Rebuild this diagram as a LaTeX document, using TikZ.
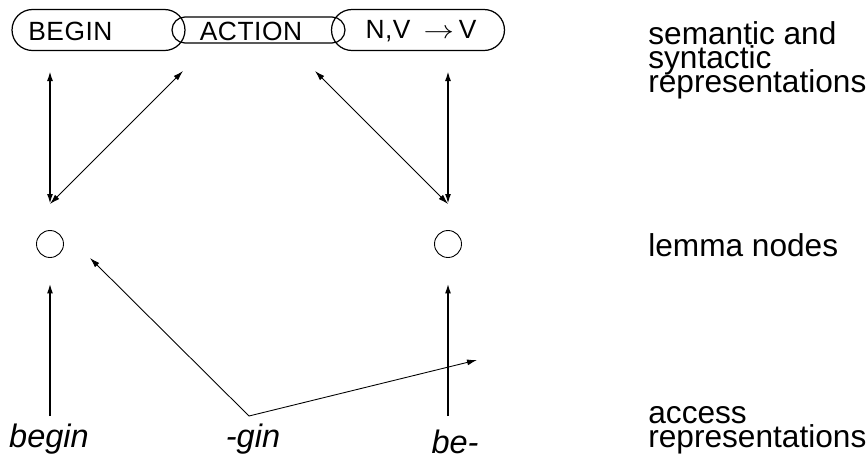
\documentclass[tikz,border=0pt]{standalone}
\usepackage{fontspec}
\usepackage{graphicx}
\setmainfont{Liberation Sans}
\newfontfamily\boxfont[LetterSpace=2]{Liberation Sans}
\usetikzlibrary{arrows.meta,shapes.misc}
\newcommand\tightlines{\lineskiplimit=-100pt\relax}

\begin{document}
\begin{tikzpicture}[x=0.02cm, y=-0.02cm,
  >={Latex[length=0.2cm,width=0.12cm]},
  stadium/.style={draw, rounded rectangle, minimum width=3.46cm, minimum height=0.82cm, inner sep=0pt, line width=0.7pt},
  boxtext/.style={font=\boxfont\fontsize{15}{18}\selectfont, inner sep=0pt},
  lemma/.style={draw, circle, minimum size=0.54cm, inner sep=0pt, line width=0.5pt},
  word/.style={font=\fontsize{18.5}{22}\selectfont\itshape, inner sep=0pt},
  layer/.style={font={\fontsize{18}{13.6}\selectfont\tightlines}, align=left, inner sep=0pt},
  uplink/.style={->, line width=1pt},
  link/.style={<->, line width=0.5pt}]
\useasboundingbox (0,0) rectangle (868,460);

\node[stadium] (begin) at (98.5,30) {};
\node[stadium] (nv) at (418,30) {};
\node[stadium, minimum height=0.52cm] (action) at (258.5,30) {};
\node[boxtext, anchor=west] (begintxt) at (28,31) {BEGIN};
\node[boxtext] (actiontxt) at (251,31) {ACTION};
\node[boxtext] (nvtxt) at (421,31) {N,V\hspace{0.26cm}\scalebox{1.2}[1]{$\rightarrow$}\hspace{0.1cm}V};

\node[lemma] (lemL) at (50,244) {};
\node[lemma] (lemR) at (448,244) {};

\node[word, anchor=base] (wbegin) at (49,447) {begin};
\node[word, anchor=base] (wgin) at (253,447) {-gin};
\node[word, anchor=base] (wbe) at (455,453) {be-};

\node[layer, anchor=north west] (semsyn) at (648,21) {semantic and\\syntactic\\representations};
\node[layer, anchor=base west] (lemmas) at (648,256) {lemma nodes};
\node[layer, anchor=north west] (access) at (648,406) {access\\representations};

\coordinate (topL) at (50,71);
\coordinate (topR) at (448,71);
\coordinate (actL) at (183,71);
\coordinate (actR) at (315,71);
\coordinate (downL) at (50,204);
\coordinate (downR) at (448,204);
\coordinate (ginsplit) at (249,416);
\coordinate (ginL) at (90,258);
\coordinate (ginR) at (477,360);

\draw[link, line width=1pt] (topL) -- (downL);
\draw[link] (downL) -- (actL);
\draw[link, line width=1pt] (topR) -- (downR);
\draw[link] (actR) -- (downR);

\draw[uplink, shorten <=0.14cm, shorten >=0.51cm] (lemL |- wbegin.north) -- (lemL.south);
\draw[uplink, shorten <=0.26cm, shorten >=0.51cm] (lemR |- wbe.north) -- (lemR.south);

\draw[->, line width=0.5pt] (ginsplit) -- (ginL);
\draw[->, line width=0.5pt] (ginsplit) -- (ginR);
\end{tikzpicture}
\end{document}
